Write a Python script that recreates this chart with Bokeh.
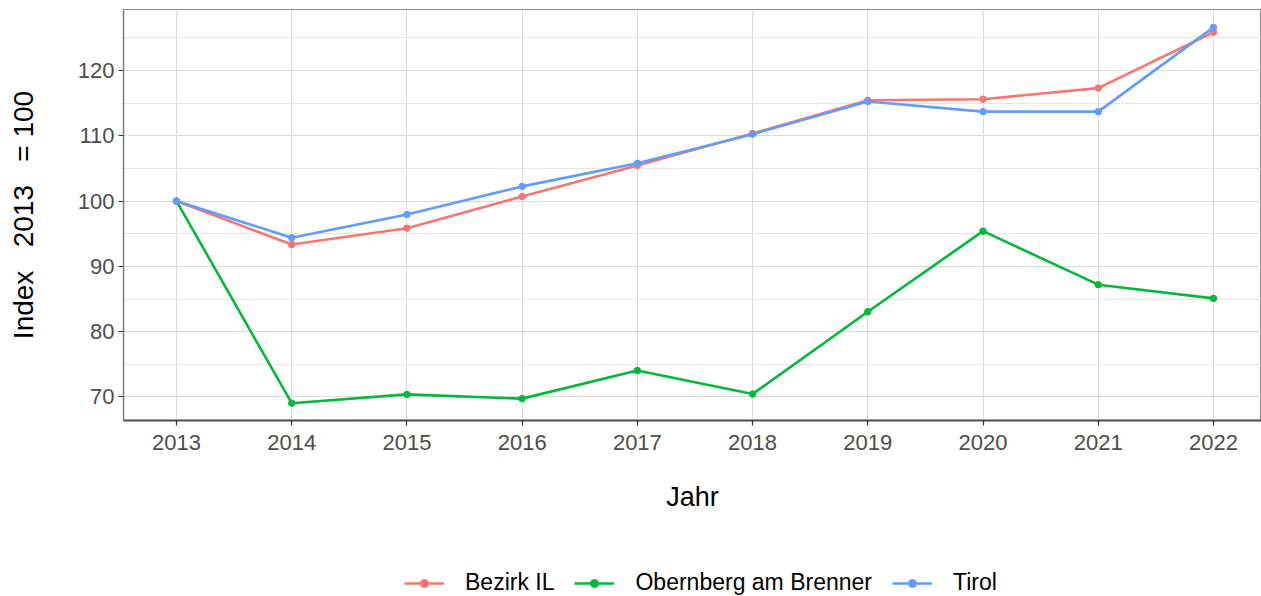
from bokeh.plotting import figure
from bokeh.layouts import column
from bokeh.models import Range1d, FixedTicker, SingleIntervalTicker, Legend, LegendItem
from bokeh.embed import file_html
from bokeh.resources import INLINE

years = [2013, 2014, 2015, 2016, 2017, 2018, 2019, 2020, 2021, 2022]
bezirk_il = [100.0, 93.35, 95.85, 100.7, 105.45, 110.35, 115.45, 115.6, 117.3, 125.85]
obernberg = [100.0, 69.05, 70.4, 69.75, 74.05, 70.45, 83.05, 95.4, 87.2, 85.1]
tirol = [100.0, 94.4, 97.95, 102.25, 105.8, 110.25, 115.25, 113.7, 113.7, 126.6]
series_names = ["Bezirk IL", "Obernberg am Brenner", "Tirol"]
series_colors = ["#F8766D", "#00BA38", "#619CFF"]

FONT = "Liberation Sans"
NB = "\u00a0"

p = figure(frame_width=1138, frame_height=411, output_backend="svg", toolbar_location=None,
           x_range=Range1d(2012.54, 2022.417), y_range=Range1d(66.4, 129.34),
           min_border_left=123, min_border_right=0, min_border_top=9, min_border_bottom=110)
p.background_fill_color = "white"
p.outline_line_color = "#8C8C8C"
p.outline_line_width = 1

p.xaxis.ticker = FixedTicker(ticks=years)
p.yaxis.ticker = SingleIntervalTicker(interval=10, num_minor_ticks=2)
p.ygrid.ticker = SingleIntervalTicker(interval=10, num_minor_ticks=2)

for ax in (p.xaxis, p.yaxis):
    ax.major_label_text_font = FONT
    ax.major_label_text_font_size = "22px"
    ax.major_label_text_color = "#4D4D4D"
    ax.axis_label_text_font = FONT
    ax.axis_label_text_font_size = "27px"
    ax.axis_label_text_font_style = "normal"
    ax.axis_label_text_color = "black"
    ax.minor_tick_line_color = None
    ax.major_tick_in = 0
    ax.major_tick_out = 5
    ax.major_tick_line_color = "#333333"
    ax.major_tick_line_width = 1.2

p.xaxis.axis_label = "Jahr"
p.yaxis.axis_label = "Index" + NB * 3 + "2013" + NB * 3 + "=" + NB + "100"
p.yaxis.axis_label_text_font_size = "28px"
p.xaxis.axis_line_color = "#4D4D4D"
p.xaxis.axis_line_width = 1.8
p.yaxis.axis_line_color = "#7F7F7F"
p.yaxis.axis_line_width = 1.5
p.xaxis.major_label_standoff = 9
p.yaxis.major_label_standoff = 4
p.xaxis.axis_label_standoff = 29
p.yaxis.axis_label_standoff = 36

p.xgrid.grid_line_color = "#DCDCDC"
p.ygrid.grid_line_color = "#DCDCDC"
p.ygrid.minor_grid_line_color = "#E6E6E6"
p.xgrid.grid_line_width = 1
p.ygrid.grid_line_width = 1

for name, vals, col in zip(series_names, [bezirk_il, obernberg, tirol], series_colors):
    p.line(years, vals, line_color=col, line_width=2.6)
    p.scatter(years, vals, fill_color=col, line_color=col, size=6.5)

# legend strip below the chart (key renderers sit outside its visible range)
p2 = figure(frame_width=1261, frame_height=66, output_backend="svg", toolbar_location=None,
            x_axis_type=None, y_axis_type=None, x_range=Range1d(0, 1), y_range=Range1d(0, 1),
            min_border_left=0, min_border_right=0, min_border_top=0, min_border_bottom=0)
p2.outline_line_color = None
p2.xgrid.visible = False
p2.ygrid.visible = False
items = []
for name, col in zip(series_names, series_colors):
    l = p2.line([-5, -4], [-5, -5], line_color=col, line_width=2.6)
    s = p2.scatter([-5], [-5], fill_color=col, line_color=col, size=6.5)
    items.append(LegendItem(label=name, renderers=[l, s]))

legend = Legend(items=items, orientation="horizontal", location=(404, 0),
                label_text_font=FONT, label_text_font_size="23px", label_text_color="black",
                glyph_width=40, glyph_height=20, label_standoff=21, spacing=20,
                border_line_color=None, background_fill_alpha=0, margin=0, padding=0)
p2.add_layout(legend, "center")

layout = column(p, p2, spacing=0)
open("out.html", "w").write(file_html(layout, INLINE))
